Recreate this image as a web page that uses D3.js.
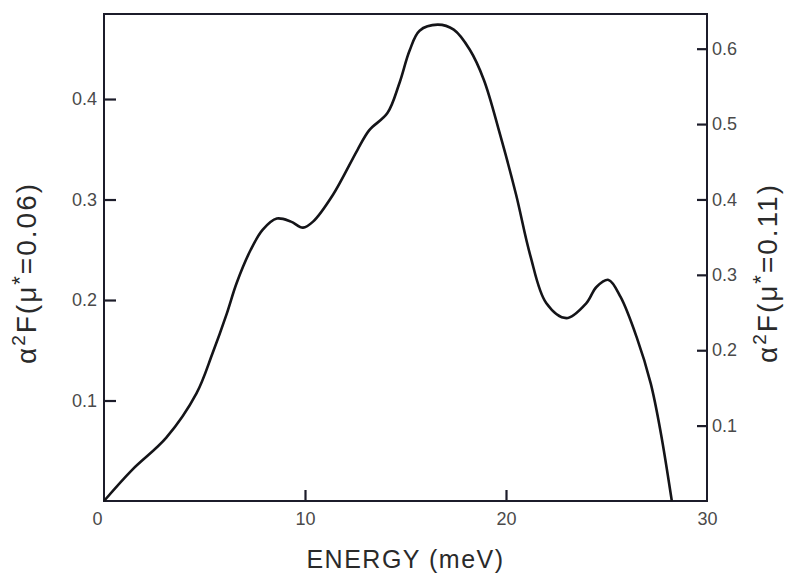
<!DOCTYPE html>
<html>
<head>
<meta charset="utf-8">
<script src="https://cdn.jsdelivr.net/npm/d3@7"></script>
<style>
  body { margin: 0; background: #fff; }
  text { font-family: "Liberation Sans", Arial, sans-serif; }
</style>
</head>
<body>
<div class="graph"></div>
<script>
const width = 788;
const height = 581;
const margin = {top: 14, right: 81, bottom: 80, left: 104};
const innerWidth = width - margin.left - margin.right;
const innerHeight = height - margin.top - margin.bottom;

// energy (meV) and alpha^2 F (mu* = 0.06)
const energy = [0, 1.4, 3.1, 4.6, 5.4, 6.1, 6.6, 7.3, 7.9, 8.6, 9.3, 9.9, 10.4, 11.4,
                12.6, 13.2, 14.1, 14.7, 15.2, 15.7, 16.6, 17.4, 18.2, 18.9, 19.7, 20.5,
                21.2, 22.0, 23.0, 24.0, 24.5, 25.1, 25.7, 26.5, 27.2, 27.7, 28.25];
const a2f = [0, 0.031, 0.063, 0.107, 0.147, 0.186, 0.217, 0.250, 0.270, 0.281, 0.278,
             0.272, 0.278, 0.305, 0.349, 0.369, 0.386, 0.416, 0.448, 0.468, 0.474,
             0.469, 0.449, 0.419, 0.365, 0.305, 0.245, 0.197, 0.182, 0.197, 0.213,
             0.220, 0.203, 0.163, 0.117, 0.068, 0];

const xTicks = [0, 10, 20, 30];
const leftTicks = [0.1, 0.2, 0.3, 0.4];
const rightTicks = [0.1, 0.2, 0.3, 0.4, 0.5, 0.6];

const svg = d3.select('.graph').append('svg')
  .attr('width', width)
  .attr('height', height);

const chart = svg.append('g')
  .attr('transform', `translate(${margin.left}, ${margin.top})`);

const xScale = d3.scaleLinear().domain([0, 30]).range([0, innerWidth]);
const yLeft = d3.scaleLinear().domain([0, 0.4846]).range([innerHeight, 0]);
const yRight = d3.scaleLinear().domain([0, 0.646]).range([innerHeight, 0]);

const ink = '#1c1c2a';
const labelInk = '#4a4a4a';

// ticks point into the frame
const styleAxis = (g) => {
  g.select('.domain').remove();
  g.selectAll('text')
    .attr('fill', labelInk)
    .style('font-size', '18px');
  g.selectAll('.tick line')
    .attr('stroke', ink)
    .attr('stroke-width', 2.2);
};

chart.append('g')
  .call(d3.axisLeft(yLeft).tickValues(leftTicks).tickSize(-12).tickPadding(7)
    .tickFormat(d3.format('.1f')))
  .call(styleAxis);

chart.append('g')
  .attr('transform', `translate(${innerWidth}, 0)`)
  .call(d3.axisRight(yRight).tickValues(rightTicks).tickSize(-10).tickPadding(5)
    .tickFormat(d3.format('.1f')))
  .call(styleAxis);

const xAxisG = chart.append('g')
  .attr('transform', `translate(0, ${innerHeight})`)
  .call(d3.axisBottom(xScale).tickValues(xTicks).tickSize(-11).tickPadding(11)
    .tickFormat(d3.format('d')))
  .call(styleAxis);
xAxisG.selectAll('.tick').filter(d => d === 0 || d === 30).select('line').remove();
xAxisG.selectAll('.tick').filter(d => d === 0).select('text').attr('x', -7);

// frame
chart.append('rect')
  .attr('x', 0).attr('y', 0)
  .attr('width', innerWidth).attr('height', innerHeight)
  .attr('fill', 'none')
  .attr('stroke', ink)
  .attr('stroke-width', 2);

const line = d3.line()
  .x((d, i) => xScale(energy[i]))
  .y(d => yLeft(d))
  .curve(d3.curveCatmullRom.alpha(0.5));

chart.append('path')
  .datum(a2f)
  .attr('d', line)
  .attr('fill', 'none')
  .attr('stroke', '#141418')
  .attr('stroke-width', 2.6);

// titles
svg.append('text')
  .attr('x', margin.left + innerWidth / 2)
  .attr('y', 568)
  .attr('text-anchor', 'middle')
  .attr('fill', '#2a2a2a')
  .style('font-size', '25px')
  .style('letter-spacing', '1.5px')
  .text('ENERGY (meV)');

const yTitle = (x, mu) => {
  const t = svg.append('text')
    .attr('transform', `translate(${x}, 273) rotate(-90)`)
    .attr('text-anchor', 'middle')
    .attr('fill', '#2a2a2a')
    .style('font-size', '28px')
    .style('letter-spacing', '2px');
  t.append('tspan').text('α');
  t.append('tspan').attr('dy', -11).style('font-size', '19px').text('2');
  t.append('tspan').attr('dy', 11).text('F(μ');
  t.append('tspan').attr('dy', -9).style('font-size', '22px').text('*');
  t.append('tspan').attr('dy', 9).text('=' + mu + ')');
};
yTitle(36, '0.06');
yTitle(777, '0.11');
</script>
</body>
</html>
